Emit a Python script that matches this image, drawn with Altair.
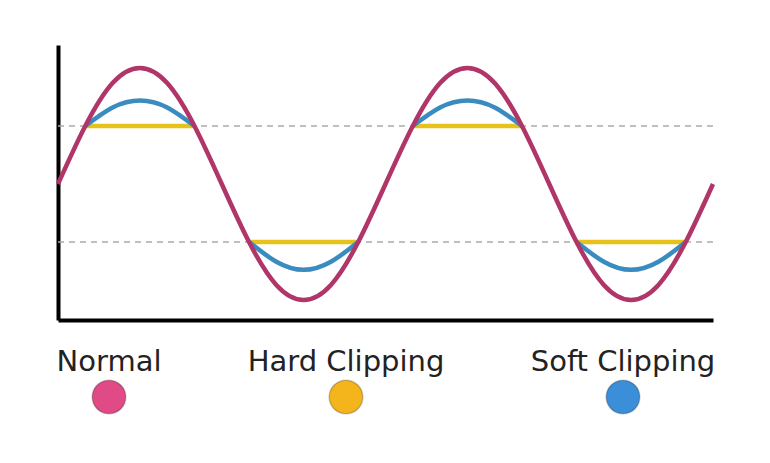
import altair as alt
import pandas as pd

# Normal sine wave, sampled every 1/12 period (x in 1/12-period units)
normal_x = list(range(25))
normal_y = [0, 0.5, 0.87, 1, 0.87, 0.5, 0, -0.5, -0.87, -1, -0.87, -0.5,
            0, 0.5, 0.87, 1, 0.87, 0.5, 0, -0.5, -0.87, -1, -0.87, -0.5, 0]

# Hard clipping flat segments
hard_x = [1, 5, 7, 11, 13, 17, 19, 23]
hard_y = [0.5, 0.5, -0.5, -0.5, 0.5, 0.5, -0.5, -0.5]
hard_seg = [0, 0, 1, 1, 2, 2, 3, 3]

# Soft clipping arcs
soft_x = [1, 2, 3, 4, 5, 7, 8, 9, 10, 11, 13, 14, 15, 16, 17, 19, 20, 21, 22, 23]
soft_y = [0.5, 0.66, 0.72, 0.66, 0.5, -0.5, -0.67, -0.74, -0.67, -0.5,
          0.5, 0.66, 0.72, 0.66, 0.5, -0.5, -0.67, -0.74, -0.67, -0.5]
soft_seg = [0]*5 + [1]*5 + [2]*5 + [3]*5

clip_levels = [0.5, -0.5]

legend_labels = ["Normal", "Hard Clipping", "Soft Clipping"]
legend_colors = ["#e04a86", "#f4b41c", "#3b8ed8"]

normal_df = pd.DataFrame({"x": normal_x, "y": normal_y})
hard_df = pd.DataFrame({"x": hard_x, "y": hard_y, "seg": hard_seg})
soft_df = pd.DataFrame({"x": soft_x, "y": soft_y, "seg": soft_seg})
clip_df = pd.DataFrame({"level": clip_levels})
legend_df = pd.DataFrame({"label": legend_labels,
                          "idx": list(range(len(legend_labels)))})

xs = alt.Scale(domain=[0, 24], nice=False, zero=False)
ys = alt.Scale(domain=[-1.172, 1.198], nice=False, zero=False)
ax = alt.Axis(domain=True, domainColor="black", domainWidth=4, ticks=False,
              labels=False, grid=False, title=None)

dashed = alt.Chart(clip_df).mark_rule(color="#aaaaaa", strokeWidth=1.5,
                                      strokeDash=[6, 5]).encode(
    y=alt.Y("level:Q", scale=ys, axis=ax))

hard = alt.Chart(hard_df).mark_line(color="#e6c21a", strokeWidth=4.5).encode(
    x=alt.X("x:Q", scale=xs, axis=ax),
    y=alt.Y("y:Q", scale=ys, axis=ax),
    detail="seg:N")

soft = alt.Chart(soft_df).mark_line(color="#3a8cc0", strokeWidth=4.5,
                                    interpolate="natural").encode(
    x=alt.X("x:Q", scale=xs, axis=ax),
    y=alt.Y("y:Q", scale=ys, axis=ax),
    detail="seg:N")

normal = alt.Chart(normal_df).mark_line(color="#b03568", strokeWidth=4.5,
                                        interpolate="natural").encode(
    x=alt.X("x:Q", scale=xs, axis=ax),
    y=alt.Y("y:Q", scale=ys, axis=ax))

lx = alt.X("idx:Q", scale=alt.Scale(domain=[0, 1, 2], range=[51, 288, 565]),
           axis=None)

leg_text = alt.Chart(legend_df).mark_text(fontSize=29, font="DejaVu Sans",
                                          color="#222222").encode(
    x=lx, text="label:N", y=alt.value(317))

leg_dot = alt.Chart(legend_df).mark_circle(size=1130, opacity=1,
                                           stroke="#00000035", strokeWidth=1.5).encode(
    x=lx, y=alt.value(352),
    color=alt.Color("label:N", scale=alt.Scale(domain=legend_labels, range=legend_colors),
                    legend=None))

main = alt.layer(dashed, hard, soft, normal)
legend = alt.layer(leg_text, leg_dot)

chart = alt.layer(main, legend).resolve_scale(x="independent").properties(
    width=655, height=275,
    autosize=alt.AutoSizeParams(type="none"),
    padding={"left": 50, "top": 37, "right": 40, "bottom": 110},
    background="white",
).configure_view(stroke=None)

chart.save("out.html", embed_options={"renderer": "svg", "actions": False})
